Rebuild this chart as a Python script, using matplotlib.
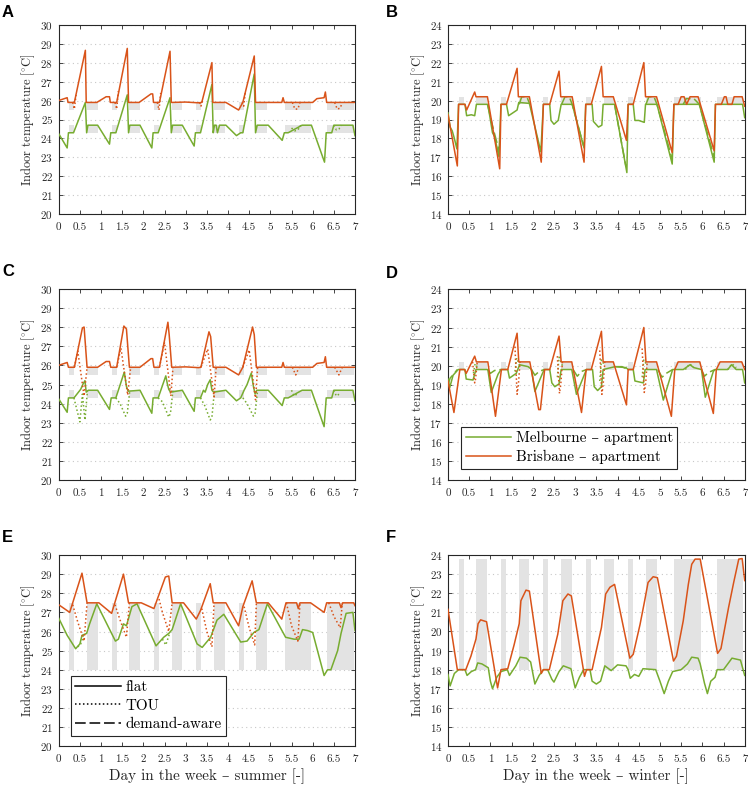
import matplotlib
matplotlib.use("Agg")
import matplotlib.pyplot as plt
from matplotlib.lines import Line2D

nan = float("nan")

# peak periods (day fractions), same for every panel
peak_start = [0.25, 0.67, 1.25, 1.67, 2.25, 2.67, 3.25, 3.67, 4.25, 4.67, 5.34, 6.34]
peak_end = [0.37, 0.92, 1.37, 1.92, 2.37, 2.92, 3.37, 3.92, 4.37, 4.92, 5.97, 6.97]

# ---- A: summer, cooling ----
a_bands = [(25.5, 25.9), (24.3, 24.7)]
a_t_bri = [0, 0.2, 0.22, 0.37, 0.63, 0.65, 0.9, 1.12, 1.2, 1.22, 1.37, 1.62, 1.65, 1.9, 2.18, 2.22, 2.24, 2.38, 2.63, 2.66,
           3.0, 3.3, 3.38, 3.62, 3.64, 3.95, 4.25, 4.35, 4.62, 4.65, 5.27, 5.3, 5.33, 6.0, 6.1, 6.27, 6.3, 6.33, 7.0]
a_T_bri = [26.0, 26.15, 25.9, 25.9, 28.65, 25.9, 25.9, 26.2, 26.2, 25.9, 25.9, 28.75, 25.9, 25.9, 26.35, 26.35, 25.9, 25.9, 28.6, 25.9,
           25.92, 25.88, 25.9, 28.0, 25.9, 25.9, 25.5, 25.9, 28.35, 25.9, 25.9, 26.15, 25.9, 25.9, 26.1, 26.15, 26.45, 25.9, 25.9]
a_t_bri_tou = [0.33, 0.37, 0.41, nan, 1.33, 1.37, 1.41, nan, 2.33, 2.37, 2.41, nan, 3.33, 3.36, 3.4, nan,
               4.33, 4.37, 4.41, nan, 5.52, 5.58, 5.65, 5.7, nan, 6.52, 6.58, 6.65, 6.7]
a_T_bri_tou = [25.9, 25.55, 26.3, nan, 25.9, 25.55, 26.5, nan, 25.9, 25.5, 26.4, nan, 25.9, 25.7, 26.0, nan,
               25.9, 25.7, 26.45, nan, 25.9, 25.55, 25.55, 25.9, nan, 25.9, 25.55, 25.6, 25.9]
a_t_mel = [0, 0.2, 0.23, 0.35, 0.63, 0.66, 0.69, 0.92, 1.2, 1.23, 1.35, 1.62, 1.65, 1.68, 1.92, 2.2, 2.23, 2.35, 2.63, 2.66,
           2.69, 2.92, 3.2, 3.23, 3.35, 3.62, 3.65, 3.68, 3.72, 3.75, 3.8, 3.95, 4.2, 4.3, 4.35, 4.62, 4.65, 4.69, 4.95, 5.28,
           5.33, 5.42, 5.75, 5.97, 6.28, 6.32, 6.45, 6.5, 6.95, 7.0]
a_T_mel = [24.25, 23.5, 24.3, 24.3, 25.9, 24.3, 24.7, 24.7, 23.7, 24.3, 24.3, 26.3, 24.3, 24.7, 24.7, 23.5, 24.3, 24.3, 26.15, 24.3,
           24.7, 24.7, 23.6, 24.3, 24.3, 26.85, 24.3, 24.7, 24.7, 24.3, 24.7, 24.7, 24.15, 24.3, 24.3, 27.4, 24.3, 24.7, 24.7, 23.9,
           24.3, 24.3, 24.7, 24.7, 22.75, 24.3, 24.3, 24.7, 24.7, 24.15]
a_t_mel_tou = [5.5, 5.58, 5.65, 5.72, nan, 6.5, 6.56, 6.62, 6.68]
a_T_mel_tou = [24.55, 24.4, 24.45, 24.7, nan, 24.7, 24.45, 24.5, 24.7]

# ---- B: winter, heating ----
b_bands = [(19.8, 20.2)]
b_t_bri = [0, 0.22, 0.25, 0.4, 0.44, 0.63, 0.66, 0.93, 1.22, 1.25, 1.38, 1.63, 1.66, 1.92, 2.2, 2.25, 2.4, 2.62, 2.66, 2.93,
           3.21, 3.25, 3.38, 3.62, 3.66, 3.9, 4.21, 4.25, 4.37, 4.62, 4.66, 4.92, 5.29, 5.33, 5.43, 5.5, 5.57, 5.63, 5.71, 5.9,
           6.28, 6.31, 6.45, 6.52, 6.56, 6.6, 6.7, 6.75, 6.94, 7.0]
b_T_bri = [19.25, 16.55, 19.8, 19.8, 19.5, 20.45, 20.2, 20.2, 16.4, 19.8, 19.8, 21.7, 20.2, 20.2, 16.75, 19.8, 19.8, 21.55, 20.2, 20.2,
           16.75, 19.8, 19.8, 21.8, 20.2, 20.2, 17.9, 19.8, 19.8, 22.0, 20.2, 20.2, 17.25, 19.8, 19.8, 20.2, 20.2, 19.8, 20.2, 20.2,
           17.35, 19.8, 19.8, 20.2, 20.2, 19.8, 19.8, 20.2, 20.2, 19.7]
b_t_mel = [0, 0.05, 0.1, 0.15, 0.21, 0.25, 0.4, 0.44, 0.55, 0.63, 0.67, 0.94, 1.05, 1.1, 1.2, 1.25, 1.38, 1.43, 1.63, 1.67,
           1.92, 2.19, 2.25, 2.4, 2.43, 2.5, 2.6, 2.67, 2.93, 3.21, 3.25, 3.4, 3.43, 3.55, 3.63, 3.66, 3.93, 4.22, 4.25, 4.37,
           4.41, 4.5, 4.63, 4.66, 4.93, 5.29, 5.33, 5.93, 6.28, 6.31, 6.95, 7.0]
b_T_mel = [19.35, 18.6, 18.4, 18.0, 17.45, 19.8, 19.8, 19.2, 19.25, 19.2, 19.8, 19.8, 18.3, 18.1, 17.05, 19.8, 19.8, 19.2, 19.5, 19.9,
           19.85, 17.3, 19.8, 19.8, 18.95, 18.75, 18.95, 19.8, 19.8, 17.5, 19.8, 19.8, 18.9, 18.6, 18.7, 19.8, 19.8, 16.2, 19.8, 19.8,
           18.95, 18.95, 18.85, 19.8, 19.8, 16.65, 19.8, 19.8, 16.75, 19.8, 19.8, 19.1]
b_t_mel_dem = [0.93, 1.08, 1.2, nan, 1.68, 1.74, 1.86, 1.93, nan, 2.68, 2.76, 2.86, 2.93, 3.2, nan, 3.93, 4.1, 4.2, nan,
               4.67, 4.74, 4.86, 4.93, 5.29, nan, 5.55, 5.62, 5.8, 5.93, 6.28]
b_T_mel_dem = [19.8, 18.4, 17.4, nan, 19.8, 20.2, 20.2, 19.8, nan, 19.8, 20.2, 20.2, 19.8, 17.6, nan, 19.8, 17.7, 16.5, nan,
               19.8, 20.2, 20.2, 19.8, 16.9, nan, 19.8, 20.1, 20.1, 19.8, 17.0]

# ---- C: summer, cooling (second case) ----
c_bands = [(25.5, 25.9), (24.3, 24.7)]
c_t_bri = [0, 0.2, 0.23, 0.37, 0.56, 0.6, 0.67, 0.92, 1.12, 1.2, 1.23, 1.37, 1.54, 1.6, 1.67, 1.92, 2.18, 2.22, 2.25, 2.38,
           2.58, 2.61, 2.67, 3.0, 3.3, 3.36, 3.55, 3.59, 3.65, 3.95, 4.25, 4.35, 4.58, 4.62, 4.67, 5.27, 5.3, 5.33, 6.0, 6.1,
           6.27, 6.3, 6.33, 7.0]
c_T_bri = [26.0, 26.15, 25.9, 25.9, 27.95, 28.0, 25.9, 25.9, 26.2, 26.2, 25.9, 25.9, 28.05, 27.9, 25.9, 25.9, 26.35, 26.35, 25.9, 25.9,
           28.25, 27.6, 25.9, 25.92, 25.88, 25.9, 27.75, 27.5, 25.9, 25.9, 25.5, 25.9, 28.0, 27.6, 25.9, 25.9, 26.15, 25.9, 25.9, 26.1,
           26.15, 26.45, 25.9, 25.9]
c_t_bri_tou = [0.37, 0.45, 0.6, 0.67, nan, 1.37, 1.47, 1.63, 1.7, nan, 2.38, 2.5, 2.65, 2.7, nan, 3.36, 3.52, 3.67, 3.72, nan,
               4.35, 4.5, 4.65, 4.7, nan, 5.52, 5.6, 5.68, nan, 6.52, 6.62, 6.7]
c_T_bri_tou = [25.9, 26.75, 24.4, 25.9, nan, 25.9, 26.9, 24.45, 25.9, nan, 25.9, 27.2, 24.4, 25.9, nan, 25.9, 26.85, 24.35, 25.9, nan,
               25.9, 26.8, 24.2, 25.9, nan, 25.9, 25.5, 25.9, nan, 25.9, 25.5, 25.9]
c_t_mel = [0, 0.2, 0.23, 0.36, 0.52, 0.58, 0.62, 0.65, 0.7, 0.92, 1.2, 1.24, 1.35, 1.55, 1.6, 1.64, 1.92, 2.2, 2.23, 2.35,
           2.53, 2.57, 2.6, 2.64, 2.92, 3.2, 3.23, 3.35, 3.42, 3.46, 3.52, 3.58, 3.62, 3.66, 3.95, 4.2, 4.3, 4.38, 4.45, 4.55,
           4.6, 4.64, 4.68, 4.95, 5.28, 5.33, 5.42, 5.75, 5.97, 6.27, 6.32, 6.45, 6.5, 6.95, 7.0]
c_T_mel = [24.25, 23.55, 24.3, 24.3, 24.75, 25.05, 25.2, 24.6, 24.7, 24.7, 23.7, 24.3, 24.3, 25.65, 24.9, 24.65, 24.7, 23.5, 24.3, 24.3,
           25.45, 25.0, 24.75, 24.6, 24.7, 23.6, 24.3, 24.3, 24.7, 24.6, 25.0, 25.25, 24.7, 24.6, 24.7, 24.15, 24.3, 24.7, 25.0, 25.6,
           24.9, 24.5, 24.7, 24.7, 23.9, 24.3, 24.3, 24.7, 24.7, 22.8, 24.3, 24.3, 24.7, 24.7, 24.15]
c_t_mel_tou = [0.36, 0.5, 0.56, 0.62, 0.68, nan, 1.35, 1.45, 1.58, 1.62, 1.68, nan, 2.35, 2.45, 2.6, 2.64, 2.7, nan,
               3.35, 3.45, 3.58, 3.62, 3.68, nan, 4.35, 4.45, 4.6, 4.64, 4.7, nan, 5.5, 5.56, 5.66, nan, 6.5, 6.56, 6.66]
c_T_mel_tou = [24.3, 23.05, 24.5, 23.15, 24.7, nan, 24.3, 24.0, 23.35, 23.5, 24.7, nan, 24.3, 24.1, 23.3, 23.5, 24.7, nan,
               24.3, 23.9, 23.15, 23.3, 24.7, nan, 24.3, 24.0, 23.35, 23.5, 24.7, nan, 24.7, 24.4, 24.55, nan, 24.7, 24.4, 24.55]

# ---- D: winter, heating (second case) ----
d_bands = [(19.8, 20.2)]
d_t_bri = [0, 0.14, 0.28, 0.39, 0.43, 0.63, 0.67, 0.94, 1.12, 1.26, 1.41, 1.63, 1.67, 1.93, 2.14, 2.18, 2.28, 2.4, 2.62, 2.67,
           2.92, 3.15, 3.26, 3.38, 3.62, 3.66, 3.9, 4.21, 4.25, 4.37, 4.62, 4.67, 4.92, 5.27, 5.35, 5.43, 5.94, 6.26, 6.33, 6.42,
           6.93, 7.0]
d_T_bri = [19.2, 17.55, 19.8, 19.8, 19.6, 20.5, 20.2, 20.2, 17.35, 19.8, 19.8, 21.7, 20.2, 20.2, 17.7, 17.7, 19.8, 19.8, 21.55, 20.2,
           20.2, 17.55, 19.8, 19.8, 21.8, 20.2, 20.2, 17.95, 19.8, 19.8, 22.0, 20.2, 20.2, 17.35, 19.8, 20.2, 20.2, 17.5, 19.8, 20.2,
           20.2, 19.8]
d_t_bri_tou = [0.58, 0.63, 0.65, 0.69, nan, 1.58, 1.63, 1.66, 1.7, nan, 2.58, 2.63, 2.66, 2.7, nan, 3.58, 3.63, 3.66, 3.7, nan,
               4.58, 4.63, 4.66, 4.7]
d_T_bri_tou = [20.2, 19.1, 19.3, 20.2, nan, 21.0, 18.5, 19.0, 20.2, nan, 20.5, 18.55, 19.0, 20.2, nan, 20.8, 18.5, 19.0, 20.2, nan,
               20.9, 18.6, 19.0, 20.2]
d_t_mel = [0, 0.04, 0.12, 0.24, 0.4, 0.43, 0.59, 0.66, 0.94, 1.02, 1.18, 1.25, 1.41, 1.45, 1.61, 1.69, 1.89, 1.97, 2.05, 2.22,
           2.27, 2.4, 2.45, 2.52, 2.62, 2.67, 2.92, 3.03, 3.22, 3.27, 3.41, 3.45, 3.53, 3.62, 3.66, 3.94, 4.2, 4.25, 4.37, 4.41,
           4.61, 4.65, 4.92, 5.08, 5.3, 5.55, 5.71, 5.8, 5.98, 6.07, 6.26, 6.3, 6.6, 6.69, 6.8, 6.95, 7.0]
d_T_mel = [19.3, 18.85, 19.5, 19.8, 19.8, 19.3, 19.25, 19.8, 19.8, 18.6, 19.55, 19.8, 19.8, 19.35, 19.6, 20.05, 19.95, 19.8, 18.65, 19.55,
           19.8, 19.8, 19.1, 18.9, 19.05, 19.8, 19.8, 18.5, 19.55, 19.8, 19.8, 18.9, 18.7, 18.9, 19.8, 19.95, 19.9, 19.8, 19.8, 19.2,
           19.1, 19.8, 19.8, 18.2, 19.8, 19.8, 20.05, 19.9, 19.8, 18.35, 19.7, 19.8, 19.8, 20.05, 19.8, 19.8, 19.1]
d_t_mel_tou = [0.6, 0.64, 0.7, nan, 1.58, 1.62, 1.7, nan, 2.58, 2.62, 2.7, nan, 3.58, 3.62, 3.7, nan, 4.58, 4.62, 4.7, nan,
               5.6, 5.7, 5.8, nan, 6.6, 6.7, 6.8]
d_T_mel_tou = [19.6, 20.1, 19.9, nan, 19.7, 20.4, 19.95, nan, 19.4, 20.45, 20.0, nan, 19.2, 20.3, 20.0, nan, 19.4, 20.3, 20.0, nan,
               19.8, 20.1, 19.9, nan, 19.8, 20.1, 19.9]
d_t_mel_dem = [0.0, 0.05, 0.15, 0.22, nan, 0.94, 1.0, 1.1, 1.25, nan, 1.97, 2.05, 2.15, 2.27, nan, 2.95, 3.05, 3.15, 3.27, nan,
               3.95, 4.1, 4.2, nan, 4.95, 5.05, 5.15, 5.3, nan, 5.98, 6.05, 6.15, 6.3]
d_T_mel_dem = [19.0, 19.35, 19.6, 19.8, nan, 19.8, 19.6, 19.75, 19.8, nan, 19.8, 19.5, 19.7, 19.8, nan, 19.8, 19.45, 19.7, 19.8, nan,
               19.95, 19.95, 19.85, nan, 19.8, 19.4, 19.6, 19.8, nan, 19.8, 19.45, 19.65, 19.8]

# ---- E: summer, wide band ----
e_bands = [(24.0, 27.5)]
e_t_bri = [0, 0.26, 0.55, 0.67, 0.95, 1.25, 1.53, 1.65, 1.95, 2.25, 2.52, 2.6, 2.68, 2.95, 3.25, 3.35, 3.58, 3.65, 3.95, 4.25,
           4.35, 4.57, 4.67, 4.95, 5.27, 5.37, 5.62, 5.66, 5.7, 5.95, 6.27, 6.33, 6.63, 6.67, 6.71, 6.97, 7.0]
e_T_bri = [27.4, 27.0, 29.05, 27.5, 27.5, 26.95, 29.0, 27.5, 27.5, 27.2, 28.85, 28.9, 27.5, 27.5, 26.65, 27.1, 28.5, 27.5, 27.5, 26.3,
           27.3, 28.65, 27.5, 27.5, 26.65, 27.5, 27.5, 27.2, 27.5, 27.5, 27.0, 27.5, 27.5, 27.25, 27.5, 27.5, 27.35]
e_t_bri_tou = [0.33, 0.45, 0.6, 0.67, nan, 1.33, 1.45, 1.6, 1.67, nan, 2.37, 2.45, 2.6, 2.68, nan, 3.38, 3.5, 3.62, 3.67, nan,
               4.38, 4.5, 4.63, 4.67, nan, 5.38, 5.5, 5.65, 5.7, nan, 6.38, 6.5, 6.65, 6.7]
e_T_bri_tou = [27.4, 26.5, 25.5, 27.5, nan, 27.4, 26.6, 25.7, 27.5, nan, 27.7, 27.0, 26.0, 27.5, nan, 27.2, 26.0, 25.2, 27.5, nan,
               27.3, 26.2, 25.3, 27.5, nan, 27.5, 26.3, 25.5, 27.5, nan, 27.5, 26.8, 26.2, 27.5]
e_t_mel = [0, 0.2, 0.4, 0.5, 0.55, 0.66, 0.73, 0.9, 1.34, 1.41, 1.53, 1.6, 1.73, 1.85, 2.3, 2.48, 2.6, 2.68, 2.88, 3.27,
           3.39, 3.59, 3.74, 3.9, 4.3, 4.45, 4.61, 4.73, 4.93, 5.36, 5.56, 5.68, 5.76, 5.88, 6.0, 6.27, 6.35, 6.43, 6.59, 6.67,
           6.79, 6.95, 7.0]
e_T_mel = [26.7, 25.8, 25.1, 25.35, 25.8, 25.9, 26.4, 27.45, 25.5, 25.6, 26.4, 26.3, 27.3, 27.45, 25.25, 25.7, 25.9, 26.1, 27.45, 25.35,
           25.17, 25.7, 26.6, 26.9, 25.45, 25.5, 25.95, 26.1, 27.45, 25.7, 25.6, 25.6, 26.1, 26.05, 25.95, 23.7, 24.0, 24.0, 25.0, 25.9,
           26.95, 27.0, 26.05]
e_t_mel_tou = [0.45, 0.52, 0.6, nan, 2.45, 2.53, 2.62]
e_T_mel_tou = [25.2, 25.35, 25.9, nan, 25.6, 25.3, 25.9]

# ---- F: winter, wide band ----
f_bands = [(18.0, 23.8)]
f_t_bri = [0, 0.22, 0.42, 0.54, 0.66, 0.71, 0.77, 0.91, 1.17, 1.25, 1.41, 1.56, 1.68, 1.72, 1.84, 1.92, 2.2, 2.25, 2.39, 2.59,
           2.71, 2.83, 2.91, 3.22, 3.27, 3.4, 3.62, 3.72, 3.82, 3.93, 4.29, 4.37, 4.53, 4.64, 4.72, 4.84, 4.94, 5.32, 5.39, 5.55,
           5.67, 5.75, 5.83, 5.95, 6.36, 6.44, 6.62, 6.74, 6.86, 6.94, 7.0]
f_T_bri = [21.15, 18.0, 18.0, 18.7, 19.6, 20.4, 20.6, 20.5, 17.05, 18.0, 18.05, 19.3, 20.4, 21.6, 22.15, 22.1, 17.8, 18.0, 18.0, 19.85,
           21.6, 21.95, 21.85, 17.65, 18.0, 18.0, 20.2, 21.95, 22.3, 22.45, 18.6, 18.8, 20.35, 21.6, 22.55, 22.85, 22.8, 18.45, 18.7, 20.55,
           22.45, 23.5, 23.77, 23.77, 18.85, 19.1, 21.25, 22.55, 23.77, 23.8, 22.65]
f_t_mel = [0, 0.05, 0.15, 0.25, 0.4, 0.45, 0.55, 0.65, 0.7, 0.8, 0.95, 1.0, 1.05, 1.15, 1.25, 1.4, 1.45, 1.6, 1.7, 1.85,
           1.95, 2.05, 2.15, 2.25, 2.35, 2.45, 2.5, 2.62, 2.72, 2.9, 3.0, 3.1, 3.2, 3.35, 3.4, 3.5, 3.6, 3.7, 3.85, 4.0,
           4.2, 4.25, 4.3, 4.4, 4.5, 4.6, 4.9, 5.0, 5.1, 5.2, 5.3, 5.5, 5.6, 5.65, 5.75, 5.9, 5.95, 6.05, 6.12, 6.2,
           6.3, 6.35, 6.5, 6.6, 6.7, 6.9, 7.0]
f_T_mel = [17.75, 17.15, 17.8, 18.0, 18.0, 17.7, 17.9, 18.0, 18.35, 18.3, 18.1, 17.4, 17.0, 17.6, 17.9, 18.0, 17.7, 18.2, 18.65, 18.6,
           18.4, 17.25, 17.7, 18.0, 18.0, 17.5, 17.35, 17.9, 18.2, 18.05, 17.05, 17.6, 18.0, 18.0, 17.4, 17.25, 17.4, 18.2, 17.95, 18.25,
           18.2, 18.0, 17.55, 17.75, 17.65, 18.05, 18.0, 17.4, 16.75, 17.4, 17.9, 18.0, 18.2, 18.3, 18.65, 18.6, 18.3, 17.3, 16.75, 17.4,
           17.6, 18.0, 18.0, 18.3, 18.6, 18.5, 17.7]

x_ticks = [0, 0.5, 1, 1.5, 2, 2.5, 3, 3.5, 4, 4.5, 5, 5.5, 6, 6.5, 7]
x_ticklabels = ["0", "0.5", "1", "1.5", "2", "2.5", "3", "3.5", "4", "4.5", "5", "5.5", "6", "6.5", "7"]

GREEN = "#77AC30"
ORANGE = "#D95319"
BAND = "#e3e3e3"
INK = "#262626"
SOLID = "-"
DOTTED = (0, (1, 1.6))
DASHED = (0, (7, 2.5))

plt.rcParams["font.family"] = ["cmr10", "DejaVu Serif"]
plt.rcParams["mathtext.fontset"] = "cm"
plt.rcParams["axes.unicode_minus"] = False
plt.rcParams["axes.formatter.use_mathtext"] = True

W, H = 748, 785
fig = plt.figure(figsize=(W / 100, H / 100), dpi=100)


def make_axes(l, t, r, b):
    return fig.add_axes([l / W, 1 - b / H, (r - l) / W, (b - t) / H])


def draw_panel(ax, bands, series, ylim, xlabel=None):
    for lo, hi in bands:
        for s, e in zip(peak_start, peak_end):
            ax.fill_between([s, e], lo, hi, color=BAND, lw=0, zorder=1)
    for t, T, color, ls in series:
        ax.plot(t, T, color=color, ls=ls, lw=1.1, zorder=3)
    ax.set_xlim(0, 7)
    ax.set_ylim(*ylim)
    ax.set_xticks(x_ticks)
    ax.set_xticklabels(x_ticklabels)
    ax.set_yticks(range(ylim[0], ylim[1] + 1))
    ax.yaxis.grid(True, ls=(0, (1, 3)), color="#c8c8c8", lw=0.8, zorder=0)
    ax.set_axisbelow(True)
    for sp in ax.spines.values():
        sp.set_color(INK)
        sp.set_linewidth(0.8)
    ax.tick_params(direction="in", top=True, right=True, length=3, width=0.6,
                   color=INK, labelcolor=INK, labelsize=8, pad=4)
    ax.tick_params(axis="x", pad=6)
    ax.set_ylabel("Indoor temperature [$^{\\circ}$C]", fontsize=9, color=INK, labelpad=2)
    if xlabel:
        ax.set_xlabel(xlabel, fontsize=10.9, color=INK, labelpad=3)


axA = make_axes(58.7, 24.7, 355, 214.3)
axB = make_axes(448, 24.7, 744.7, 214.3)
axC = make_axes(58.7, 288.7, 355, 480.3)
axD = make_axes(448, 289.3, 744.7, 480.3)
axE = make_axes(58.7, 555, 355, 746.3)
axF = make_axes(448, 554.7, 744.7, 746.3)

draw_panel(axA, a_bands, [
    (a_t_mel, a_T_mel, GREEN, SOLID), (a_t_mel_tou, a_T_mel_tou, GREEN, DOTTED),
    (a_t_bri, a_T_bri, ORANGE, SOLID), (a_t_bri_tou, a_T_bri_tou, ORANGE, DOTTED)], (20, 30))
draw_panel(axB, b_bands, [
    (b_t_mel, b_T_mel, GREEN, SOLID), (b_t_mel_dem, b_T_mel_dem, GREEN, DASHED),
    (b_t_bri, b_T_bri, ORANGE, SOLID)], (14, 24))
draw_panel(axC, c_bands, [
    (c_t_mel, c_T_mel, GREEN, SOLID), (c_t_mel_tou, c_T_mel_tou, GREEN, DOTTED),
    (c_t_bri, c_T_bri, ORANGE, SOLID), (c_t_bri_tou, c_T_bri_tou, ORANGE, DOTTED)], (20, 30))
draw_panel(axD, d_bands, [
    (d_t_mel, d_T_mel, GREEN, SOLID), (d_t_mel_dem, d_T_mel_dem, GREEN, DASHED),
    (d_t_mel_tou, d_T_mel_tou, GREEN, DOTTED),
    (d_t_bri, d_T_bri, ORANGE, SOLID), (d_t_bri_tou, d_T_bri_tou, ORANGE, DOTTED)], (14, 24))
draw_panel(axE, e_bands, [
    (e_t_mel, e_T_mel, GREEN, SOLID), (e_t_mel_tou, e_T_mel_tou, GREEN, DOTTED),
    (e_t_bri, e_T_bri, ORANGE, SOLID), (e_t_bri_tou, e_T_bri_tou, ORANGE, DOTTED)], (20, 30),
    xlabel="Day in the week \u2013 summer [-]")
draw_panel(axF, f_bands, [
    (f_t_mel, f_T_mel, GREEN, SOLID), (f_t_bri, f_T_bri, ORANGE, SOLID)], (14, 24),
    xlabel="Day in the week \u2013 winter [-]")

# legends
leg_kw = dict(loc="lower left", borderaxespad=0, fontsize=10.9, handlelength=3.0,
              fancybox=False, framealpha=1, edgecolor=INK, labelspacing=0.33,
              borderpad=0.3, handletextpad=0.3)
city_handles = [Line2D([], [], color=GREEN, lw=1.1), Line2D([], [], color=ORANGE, lw=1.1)]
legD = axD.legend(city_handles, ["Melbourne \u2013 apartment", "Brisbane \u2013 apartment"],
                  bbox_to_anchor=(0.044, 0.059), **leg_kw)
legD.get_frame().set_linewidth(0.8)
legD.set_zorder(5)

style_handles = [Line2D([], [], color="black", lw=1.1, ls=SOLID),
                 Line2D([], [], color="black", lw=1.1, ls=DOTTED),
                 Line2D([], [], color="black", lw=1.1, ls=DASHED)]
legE = axE.legend(style_handles, ["flat", "TOU", "demand-aware"],
                  bbox_to_anchor=(0.0405, 0.055), **leg_kw)
legE.get_frame().set_linewidth(0.8)
legE.set_zorder(5)

# panel letters
for letter, x, y in [("A", 2, 12.5), ("B", 386, 12.5), ("C", 2, 272), ("D", 386, 273.5),
                     ("E", 2, 538), ("F", 386, 537)]:
    fig.text(x / W, 1 - y / H, letter, family="Liberation Sans", weight="bold",
             fontsize=12, ha="left", va="center")

fig.savefig("out.png", dpi=100)
